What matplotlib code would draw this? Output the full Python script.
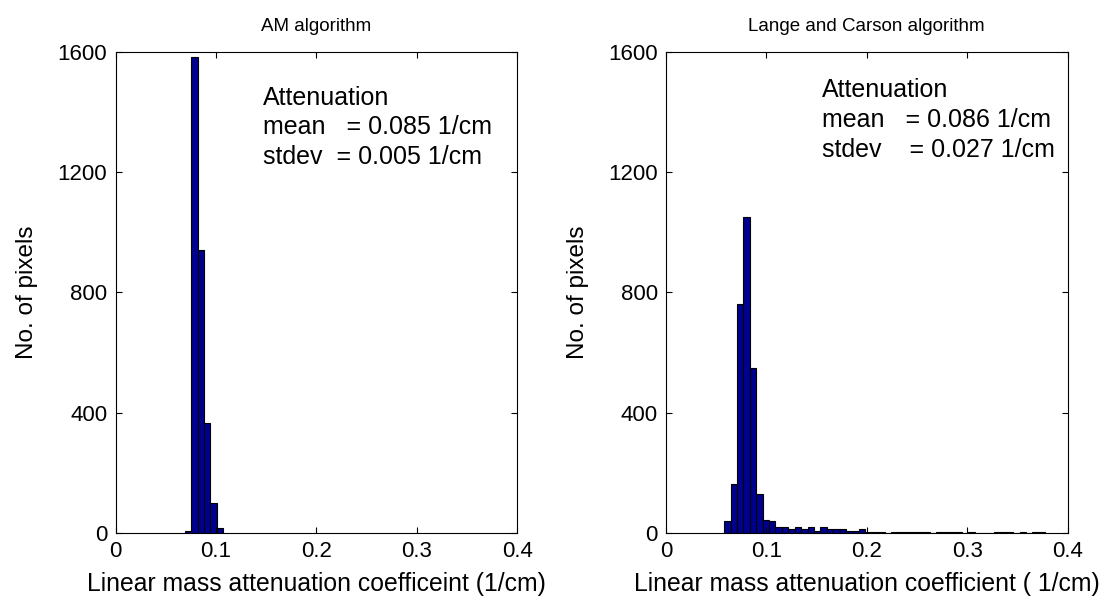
import numpy as np
import matplotlib.pyplot as plt

plt.rcParams['font.family'] = ['Liberation Sans', 'DejaVu Sans']

bin_w = 0.0064

# AM algorithm histogram
am_start = 0.0688
am_counts = [5, 1585, 940, 366, 100, 17]

# Lange and Carson histogram
lc_start = 0.0578
lc_counts = [38, 162, 762, 1053, 549, 129, 44, 38, 18, 18,
             12, 18, 12, 18, 5, 18, 12, 12, 12, 5,
             5, 12, 4, 4, 4, 0, 4, 4, 4, 4,
             4, 4, 0, 4, 4, 4, 4, 0, 4, 0,
             0, 0, 4, 4, 4, 0, 4, 0, 4, 4]

titles = ['AM algorithm', 'Lange and Carson algorithm']
xlabels = ['Linear mass attenuation coefficeint (1/cm)',
           'Linear mass attenuation coefficient ( 1/cm)']
notes = [['Attenuation', 'mean   = 0.085 1/cm', 'stdev  = 0.005 1/cm'],
         ['Attenuation', 'mean   = 0.086 1/cm', 'stdev    = 0.027 1/cm']]
note_x = [0.147, 0.155]
note_y = [[1424, 1327, 1227], [1450, 1350, 1251]]

fig = plt.figure(figsize=(11.12, 6), dpi=100)
ax1 = fig.add_axes([0.104, 0.112, 0.361, 0.801])
ax2 = fig.add_axes([0.599, 0.112, 0.361, 0.801])

data = [(am_start, am_counts), (lc_start, lc_counts)]
for i, ax in enumerate([ax1, ax2]):
    start, counts = data[i]
    edges = start + bin_w * np.arange(len(counts))
    ax.bar(edges, counts, width=bin_w, align='edge', color='#00008F',
           edgecolor='black', linewidth=0.8)
    ax.set_xlim(0, 0.4)
    ax.set_ylim(0, 1600)
    ax.set_xticks([0, 0.1, 0.2, 0.3, 0.4])
    ax.set_xticklabels(['0', '0.1', '0.2', '0.3', '0.4'])
    ax.set_yticks([0, 400, 800, 1200, 1600])
    ax.tick_params(direction='in', top=True, right=True, labelsize=16,
                   length=4, pad=6)
    ax.set_title(titles[i], fontsize=13.5, pad=15)
    ax.set_xlabel(xlabels[i], fontsize=17.8, labelpad=7)
    ax.set_ylabel('No. of pixels', fontsize=17.5, labelpad=14)
    for line, yy in zip(notes[i], note_y[i]):
        ax.text(note_x[i], yy, line, fontsize=18, va='baseline', ha='left')

fig.savefig('out.png', dpi=100)
